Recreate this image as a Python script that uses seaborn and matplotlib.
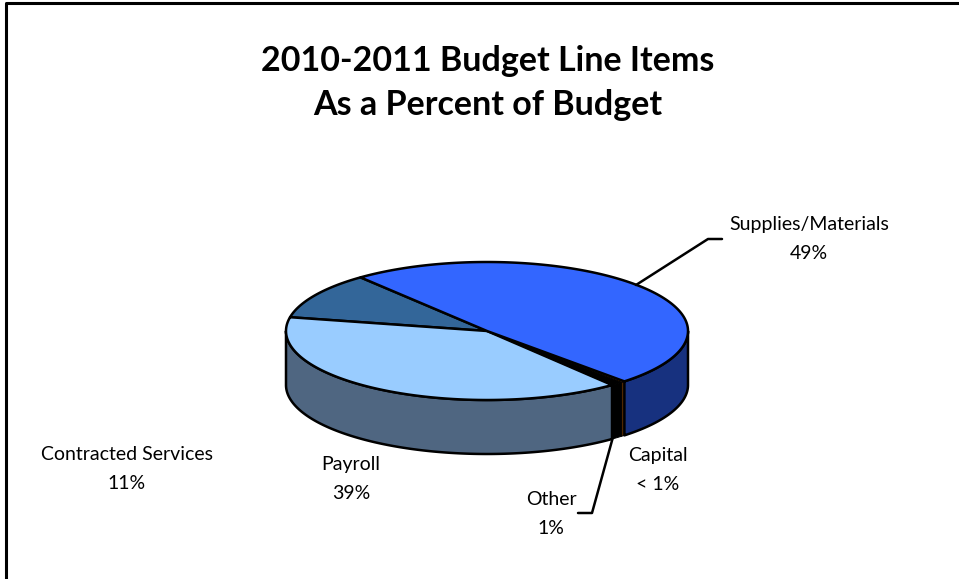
import numpy as np
import matplotlib
matplotlib.use("Agg")
import matplotlib.pyplot as plt
import seaborn as sns

# Budget shares, listed clockwise from the Supplies/Materials slice
categories = ["Supplies/Materials", "Capital", "Other", "Payroll", "Contracted Services"]
shares = [49, 0.3, 1, 39, 11]
share_labels = ["49%", "< 1%", "1%", "39%", "11%"]
top_colors = ["#3366FF", "#663300", "#000000", "#99CCFF", "#336699"]
side_colors = ["#17317F", "#5A2D00", "#000000", "#4F6681", "#264D73"]
title_lines = ["2010-2011 Budget Line Items", "As a Percent of Budget"]

# Pie geometry in pixels: ellipse centre, radii and wall depth
CX, CY, RX, RY, DEPTH = 487, 331, 201, 69, 54
START_ANGLE = 129

sns.set_theme(style="white")
plt.rcParams["font.family"] = ["Lato", "DejaVu Sans"]

fig = plt.figure(figsize=(9.59, 5.79), dpi=100)
ax = fig.add_axes([0, 0, 1, 1])
ax.set_xlim(0, 959)
ax.set_ylim(579, 0)
ax.axis("off")


def rim(a0, a1, drop=0.0):
    """Points along the rim between two angles, in degrees counter-clockwise from east."""
    t = np.radians(np.linspace(a0, a1, max(int(abs(a1 - a0) * 2), 2)))
    return CX + RX * np.cos(t), CY - RY * np.sin(t) + drop


fractions = np.array(shares) / np.sum(shares)
sweeps = fractions * 360
ends = START_ANGLE - np.cumsum(sweeps)
starts = ends + sweeps
# The narrow slices get a finer outline so their fill stays visible
widths = [1.8 if f > 0.02 else 0.7 for f in fractions]

# Outer wall: only the part of each slice on the near half of the rim.
# Drawn in reverse so the narrow Capital wall sits over its black neighbour.
for a0, a1, color, lw in list(zip(starts, ends, side_colors, widths))[::-1]:
    lo, hi = a1, a0
    for k in (-1, 0):
        seg_hi = min(hi, 360 * k)
        seg_lo = max(lo, 360 * k - 180)
        if seg_hi > seg_lo:
            xt, yt = rim(seg_hi, seg_lo)
            xb, yb = rim(seg_lo, seg_hi, DEPTH)
            ax.fill(np.r_[xt, xb], np.r_[yt, yb], facecolor=color,
                    edgecolor="black", linewidth=lw, joinstyle="round", zorder=2)

# Top face of every slice
for a0, a1, color, lw in list(zip(starts, ends, top_colors, widths))[::-1]:
    x, y = rim(a0, a1)
    ax.fill(np.r_[CX, x], np.r_[CY, y], facecolor=color,
            edgecolor="black", linewidth=lw, joinstyle="round", zorder=3)

# Leader lines for the two labels that sit away from their slices
ax.plot([636, 708, 722], [285, 239, 239], color="black", lw=1.8, zorder=4)
ax.plot([613, 592, 578], [437, 513, 513], color="black", lw=1.8, zorder=1)

# Slice labels: name above share
label_spots = [(809, 239), (658, 470), (551, 514), (351, 479), (127, 469)]
for name, pct, (lx, ly) in zip(categories, share_labels, label_spots):
    ax.text(lx, ly, f"{name}\n{pct}", ha="center", va="center",
            fontsize=14, color="black", linespacing=1.85)

ax.text(488, 83, "\n".join(title_lines), ha="center", va="center",
        fontsize=24.5, fontweight="bold", color="black", linespacing=1.47)

# Partial chart frame along the top and left edges
ax.plot([6, 6, 959], [579, 3, 3], color="black", lw=2.2, zorder=5)

fig.savefig("out.png", dpi=100, facecolor="white")
